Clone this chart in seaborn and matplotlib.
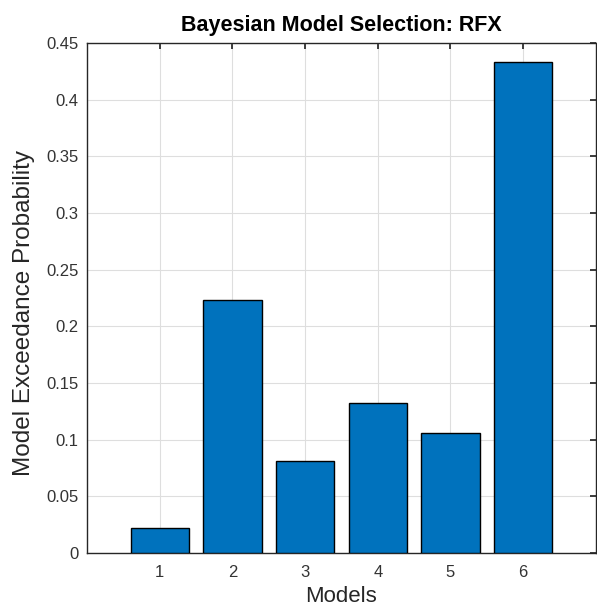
import pandas as pd
import seaborn as sns
import matplotlib.pyplot as plt

# Values
models = [1, 2, 3, 4, 5, 6]
exceedance = [0.022, 0.223, 0.081, 0.132, 0.1055, 0.433]
y_ticks = [0, 0.05, 0.1, 0.15, 0.2, 0.25, 0.3, 0.35, 0.4, 0.45]
y_tick_labels = ['0', '0.05', '0.1', '0.15', '0.2', '0.25', '0.3', '0.35', '0.4', '0.45']

df = pd.DataFrame({'Models': models, 'Exceedance': exceedance})

sns.set_theme(style="white")
plt.rcParams['font.family'] = ['Liberation Sans', 'DejaVu Sans']

fig = plt.figure(figsize=(5.97, 6.15), dpi=100)
ax = fig.add_axes([0.146, 0.101, 0.852, 0.829])

sns.barplot(data=df, x='Models', y='Exceedance', native_scale=True,
            color='#0072BD', saturation=1, width=0.8,
            edgecolor='black', linewidth=1.0, ax=ax, zorder=3)

ax.set_xlim(0, 7)
ax.set_ylim(0, 0.45)
ax.set_xticks(models)
ax.set_xticklabels([str(m) for m in models])
ax.set_yticks(y_ticks)
ax.set_yticklabels(y_tick_labels)

ax.grid(True, color='#dedede', linewidth=0.8, zorder=0)
ax.set_axisbelow(True)
for side in ['left', 'right', 'top', 'bottom']:
    ax.spines[side].set_visible(True)
    ax.spines[side].set_color('#262626')
    ax.spines[side].set_linewidth(1.0)

ax.tick_params(axis='both', which='both', direction='in', length=4,
               top=True, right=True, labelsize=12, colors='#262626',
               labelcolor='#333333', pad=6)
ax.tick_params(axis='x', pad=9)

ax.set_title('Bayesian Model Selection: RFX', fontsize=15.5, fontweight='bold',
             color='black', pad=9)
ax.set_xlabel('Models', fontsize=16, color='#262626', labelpad=4)
ax.set_ylabel('Model Exceedance Probability', fontsize=17.5, color='#262626')
# reference label sits a little below the axes centre
ax.yaxis.set_label_coords(-0.102, 0.47)

fig.savefig('out.png', dpi=100)
